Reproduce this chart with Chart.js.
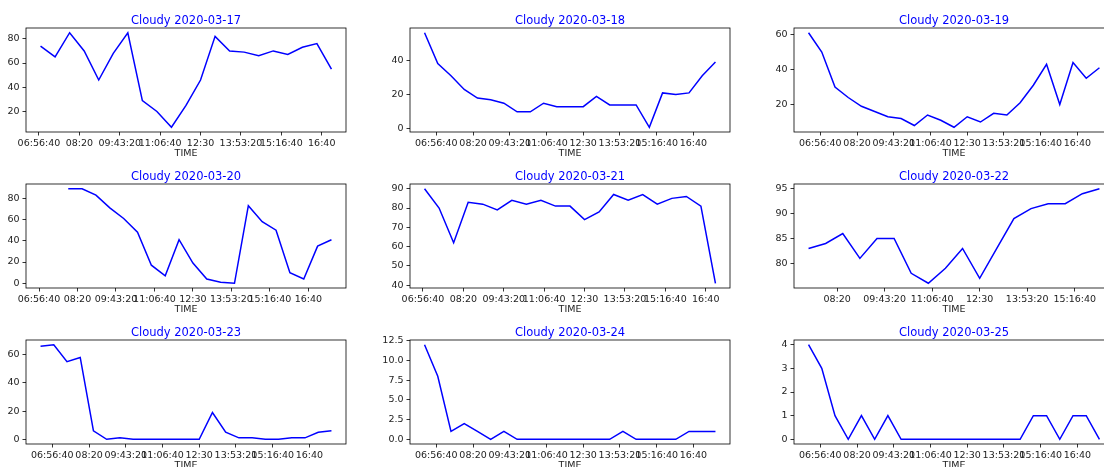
<!DOCTYPE html>
<html>
<head>
<meta charset="utf-8">
<script src="https://cdn.jsdelivr.net/npm/chart.js@4.4.1/dist/chart.umd.min.js"></script>
<style>
  html, body { margin: 0; padding: 0; width: 1104px; height: 467px; overflow: hidden; background: #fff; }
  canvas { position: absolute; }
</style>
</head>
<body>
<script>
// half-hour reading slots of a day
const HALF_HOURS = ['06:30', '07:00', '07:30', '08:00', '08:30', '09:00', '09:30', '10:00',
  '10:30', '11:00', '11:30', '12:00', '12:30', '13:00', '13:30', '14:00', '14:30', '15:00',
  '15:30', '16:00', '16:30', '17:00', '17:30'];

const titles = ['Cloudy 2020-03-17', 'Cloudy 2020-03-18', 'Cloudy 2020-03-19',
  'Cloudy 2020-03-20', 'Cloudy 2020-03-21', 'Cloudy 2020-03-22',
  'Cloudy 2020-03-23', 'Cloudy 2020-03-24', 'Cloudy 2020-03-25'];

// which slots each day covers
const panelTimes = [
  HALF_HOURS.slice(1, 22),  // 07:00 - 17:00
  HALF_HOURS.slice(0, 23),  // 06:30 - 17:30
  HALF_HOURS.slice(0, 23),
  HALF_HOURS.slice(1, 23),  // 07:00 - 17:30
  HALF_HOURS.slice(1, 22),
  HALF_HOURS.slice(2, 20),  // 07:30 - 16:00
  HALF_HOURS.slice(0, 23),
  HALF_HOURS.slice(0, 23),
  HALF_HOURS.slice(0, 23)
];

const cloudy0317 = [74, 65, 85, 70, 46, 68, 85, 29, 20, 7, 25, 46, 82, 70, 69, 66, 70, 67, 73, 76, 55];
const cloudy0318 = [56, 38, 31, 23, 18, 17, 15, 10, 10, 15, 13, 13, 13, 19, 14, 14, 14, 1, 21, 20, 21, 31, 39];
const cloudy0319 = [61, 50, 30, 24, 19, 16, 13, 12, 8, 14, 11, 7, 13, 10, 15, 14, 21, 31, 43, 20, 44, 35, 41];
const cloudy0320 = [null, null, 89, 89, 83, 71, 61, 48, 17, 7, 41, 19, 4, 1, 0, 73, 58, 50, 10, 4, 35, 41];
const cloudy0321 = [90, 80, 62, 83, 82, 79, 84, 82, 84, 81, 81, 74, 78, 87, 84, 87, 82, 85, 86, 81, 41];
const cloudy0322 = [83, 84, 86, 81, 85, 85, 78, 76, 79, 83, 77, 83, 89, 91, 92, 92, 94, 95];
const cloudy0323 = [66, 67, 55, 58, 6, 0, 1, 0, 0, 0, 0, 0, 0, 19, 5, 1, 1, 0, 0, 1, 1, 5, 6];
const cloudy0324 = [12, 8, 1, 2, 1, 0, 1, 0, 0, 0, 0, 0, 0, 0, 0, 1, 0, 0, 0, 0, 1, 1, 1];
const cloudy0325 = [4, 3, 1, 0, 1, 0, 1, 0, 0, 0, 0, 0, 0, 0, 0, 0, 0, 1, 1, 0, 1, 1, 0];

const panelValues = [cloudy0317, cloudy0318, cloudy0319, cloudy0320, cloudy0321,
  cloudy0322, cloudy0323, cloudy0324, cloudy0325];

// y tick spacing per panel, x ticks every 5000 s
const yStep = [20, 20, 20, 20, 10, 5, 20, 2.5, 1];
const X_STEP = 5000;

// ---- layout ----
const colLeft = [26, 410, 794];
const rowTop = [28, 184, 340];
const PLOT_W = 320, PLOT_H = 104;
const Y_AXIS_W = 60, TITLE_H = 30, X_AXIS_H = 40, RIGHT_PAD = 20;
const FONT = 'DejaVu Sans';

function toSeconds(t) {
  const [h, m] = t.split(':').map(Number);
  return h * 3600 + m * 60;
}

function pad2(n) { return String(n).padStart(2, '0'); }

// like matplotlib's labels: drop the seconds when they are zero
function fmtTime(sec) {
  const h = Math.floor(sec / 3600), m = Math.floor((sec % 3600) / 60), s = Math.round(sec % 60);
  return s === 0 ? pad2(h) + ':' + pad2(m) : pad2(h) + ':' + pad2(m) + ':' + pad2(s);
}

// data limits with 5% margin on each side
function padRange(vals) {
  const v = vals.filter(d => d !== null);
  const lo = Math.min(...v), hi = Math.max(...v);
  const m = (hi - lo) * 0.05;
  return [lo - m, hi + m];
}

function stepTicks(min, max, step) {
  const out = [];
  for (let v = Math.ceil(min / step - 1e-9) * step; v <= max + 1e-9; v += step) {
    out.push({ value: +v.toFixed(6) });
  }
  return out;
}

const frame = {
  id: 'frame',
  afterDraw(chart) {
    const a = chart.chartArea, c = chart.ctx;
    c.save();
    c.strokeStyle = '#000';
    c.lineWidth = 0.8;
    c.strokeRect(a.left, a.top, a.right - a.left, a.bottom - a.top);
    c.restore();
  }
};

const tickGrid = { display: true, drawOnChartArea: false, drawTicks: true, tickLength: 3.5, color: '#000', lineWidth: 0.8 };

panelValues.forEach((vals, i) => {
  const secs = panelTimes[i].map(toSeconds);
  const xr = padRange(secs);
  const yr = padRange(vals);
  const step = yStep[i];

  const canvas = document.createElement('canvas');
  canvas.width = Y_AXIS_W + PLOT_W + RIGHT_PAD;
  canvas.height = TITLE_H + PLOT_H + X_AXIS_H;
  canvas.style.left = (colLeft[i % 3] - Y_AXIS_W) + 'px';
  canvas.style.top = (rowTop[Math.floor(i / 3)] - TITLE_H) + 'px';
  document.body.appendChild(canvas);

  new Chart(canvas.getContext('2d'), {
    type: 'line',
    data: {
      datasets: [{
        data: secs.map((s, k) => ({ x: s, y: vals[k] })),
        borderColor: '#0000ff',
        borderWidth: 1.5,
        pointRadius: 0,
        tension: 0,
        fill: false,
        spanGaps: false
      }]
    },
    options: {
      responsive: false,
      animation: false,
      devicePixelRatio: 1,
      layout: { padding: { left: 0, top: 0, right: RIGHT_PAD, bottom: 0 } },
      plugins: {
        legend: { display: false },
        tooltip: { enabled: false },
        title: {
          display: true,
          fullSize: false,   // centre over the plot area, as matplotlib does
          text: titles[i],
          color: '#0000ff',
          font: { family: FONT, size: 11.5, weight: 'normal', lineHeight: '14px' },
          padding: { top: 16, bottom: 0 }
        }
      },
      scales: {
        x: {
          type: 'linear',
          min: xr[0],
          max: xr[1],
          afterBuildTicks: s => { s.ticks = stepTicks(s.min, s.max, X_STEP); },
          afterFit: s => { s.height = X_AXIS_H; },
          grid: tickGrid,
          border: { display: false },
          ticks: {
            autoSkip: false, maxRotation: 0, minRotation: 0, padding: 2,
            color: '#222', font: { family: FONT, size: 9.5 },
            callback: v => fmtTime(v)
          },
          title: {
            display: true, text: 'TIME', color: '#222',
            font: { family: FONT, size: 9.5 },
            padding: { top: 0, bottom: 12.5 }
          }
        },
        y: {
          type: 'linear',
          min: yr[0],
          max: yr[1],
          afterBuildTicks: s => { s.ticks = stepTicks(s.min, s.max, step); },
          afterFit: s => { s.width = Y_AXIS_W; },
          grid: tickGrid,
          border: { display: false },
          ticks: {
            padding: 3, color: '#222', font: { family: FONT, size: 9.5 },
            callback: v => (step % 1 ? v.toFixed(1) : String(v))
          }
        }
      }
    },
    plugins: [frame]
  });
});
</script>
</body>
</html>
